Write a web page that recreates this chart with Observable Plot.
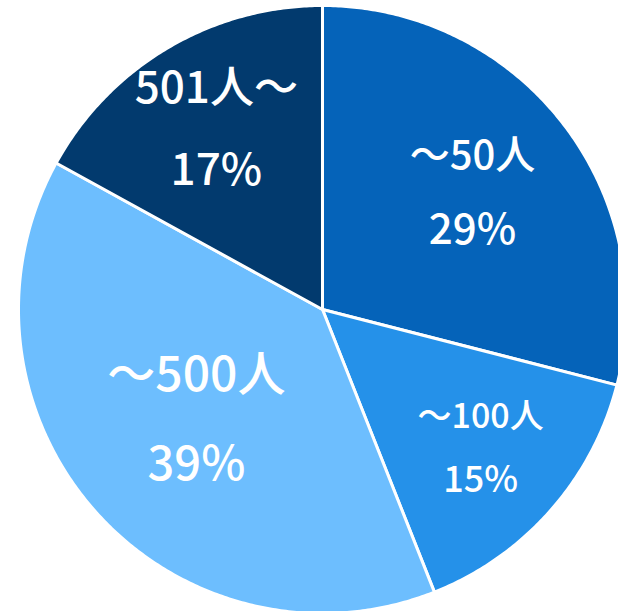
<!DOCTYPE html>
<html>
<head>
<meta charset="utf-8">
<script src="https://cdn.jsdelivr.net/npm/d3@7"></script>
<script src="https://cdn.jsdelivr.net/npm/@observablehq/plot@0.6"></script>
<style>
  html, body { margin: 0; padding: 0; background: #fff; }
  #chart { width: 618px; height: 611px; overflow: hidden; }
</style>
</head>
<body>
<div id="chart"></div>
<script>
// ---- data ----
const categories = ["～50人", "～100人", "～500人", "501人～"];
const shares = [29, 15, 39, 17];
const percentLabels = ["29%", "15%", "39%", "17%"];

// ---- styles ----
const colors = ["#0563B9", "#2591E9", "#6DBEFE", "#023A6E"];
const catSizes = [40, 34, 48, 44];
const pctSizes = [42, 36, 47, 44];

// ---- layout ----
const W = 618, H = 611, CX = 322, CY = 309, R = 304;

const pie = d3.pie().sort(null).value(d => d)(shares);

const polys = [];
pie.forEach((a, i) => {
  polys.push({ k: i, x: 0, y: 0 });
  const n = Math.max(2, Math.ceil((a.endAngle - a.startAngle) / (Math.PI / 360)));
  for (let j = 0; j <= n; j++) {
    const t = a.startAngle + (a.endAngle - a.startAngle) * j / n;
    polys.push({ k: i, x: R * Math.sin(t), y: R * Math.cos(t) });
  }
});

// label anchor: slightly pushed-out area centroid of each sector
const labels = pie.map((a, i) => {
  const th = a.endAngle - a.startAngle;
  const m = (a.startAngle + a.endAngle) / 2;
  const r = 1.08 * (4 * R * Math.sin(th / 2)) / (3 * th);
  const gap = 0.93 * catSizes[i];
  return { i, cx: r * Math.sin(m), cy: r * Math.cos(m), gap };
});

const font = "'Noto Sans CJK JP', 'Noto Sans', sans-serif";

const chart = Plot.plot({
  width: W,
  height: H,
  margin: 0,
  x: { domain: [-CX, W - CX], axis: null },
  y: { domain: [-(H - CY), CY], axis: null },
  style: { fontFamily: font, background: "white" },
  marks: [
    Plot.line(polys, {
      x: "x", y: "y", z: "k",
      fill: d => colors[d.k],
      stroke: "white", strokeWidth: 3, strokeLinejoin: "round",
      curve: "linear-closed"
    }),
    Plot.text(labels, {
      x: "cx", y: d => d.cy + d.gap,
      text: d => categories[d.i],
      fontSize: d => catSizes[d.i], fill: "white", fontWeight: 500,
      textAnchor: "middle", lineAnchor: "middle"
    }),
    Plot.text(labels, {
      x: "cx", y: d => d.cy - d.gap,
      text: d => percentLabels[d.i],
      fontSize: d => pctSizes[d.i], fill: "white", fontWeight: 500,
      textAnchor: "middle", lineAnchor: "middle"
    })
  ]
});

document.getElementById("chart").appendChild(chart);
</script>
</body>
</html>
